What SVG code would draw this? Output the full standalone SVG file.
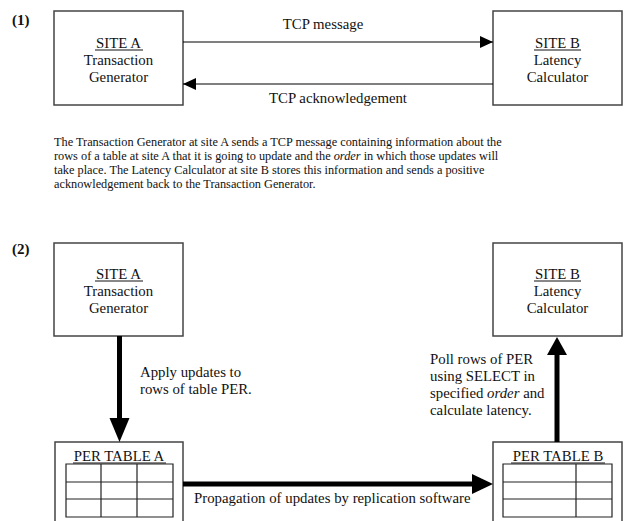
<svg xmlns="http://www.w3.org/2000/svg" width="629" height="521" viewBox="0 0 629 521">
<defs>
<style>
text{font-family:"Liberation Serif","Times New Roman",serif;fill:#111}
.lbl{font-size:14.8px}
.mid{text-anchor:middle}
.para{font-size:12.3px}
.num{font-size:15px;font-weight:bold}
.box{fill:#fff;stroke:#444;stroke-width:1.5}
.grid{fill:none;stroke:#222;stroke-width:1.2}
.thin{stroke:#000;stroke-width:1.2;fill:none}
.thick{stroke:#000;stroke-width:5;fill:none}
.ul{stroke:#111;stroke-width:1}
</style>
<marker id="ah" markerWidth="14" markerHeight="12" refX="13" refY="6" orient="auto" markerUnits="userSpaceOnUse">
<path d="M0,0 L13,6 L0,12 Z" fill="#000"/>
</marker>
</defs>
<text class="num" x="12" y="25">(1)</text>
<text class="num" x="12" y="254">(2)</text>

<g id="site-a-1">
<rect class="box" x="54" y="11" width="129" height="94"/>
<text class="lbl mid" x="118.5" y="48">SITE A</text>
<line class="ul" x1="95" y1="50" x2="143" y2="50"/>
<text class="lbl mid" x="118.5" y="65">Transaction</text>
<text class="lbl mid" x="118.5" y="82">Generator</text>
</g>
<g id="site-b-1">
<rect class="box" x="493" y="11" width="129" height="94"/>
<text class="lbl mid" x="557.5" y="48">SITE B</text>
<line class="ul" x1="534" y1="50" x2="581" y2="50"/>
<text class="lbl mid" x="557.5" y="65">Latency</text>
<text class="lbl mid" x="557.5" y="82">Calculator</text>
</g>

<g id="connectors-1">
<line class="thin" x1="183" y1="42" x2="493" y2="42" marker-end="url(#ah)"/>
<line class="thin" x1="493" y1="84" x2="183" y2="84" marker-end="url(#ah)"/>
<text class="lbl mid" x="323" y="29">TCP message</text>
<text class="lbl mid" x="338" y="103">TCP acknowledgement</text>
</g>

<g id="description">
<text class="para" x="54" y="146">The Transaction Generator at site A sends a TCP message containing information about the</text>
<text class="para" x="54" y="160">rows of a table at site A that it is going to update and the <tspan font-style="italic">order</tspan> in which those updates will</text>
<text class="para" x="54" y="174">take place.  The Latency Calculator at site B stores this information and sends a positive</text>
<text class="para" x="54" y="188">acknowledgement back to the Transaction Generator.</text>
</g>

<g id="site-a-2">
<rect class="box" x="54" y="243" width="129" height="93"/>
<text class="lbl mid" x="118.5" y="279">SITE A</text>
<line class="ul" x1="95" y1="281" x2="143" y2="281"/>
<text class="lbl mid" x="118.5" y="296">Transaction</text>
<text class="lbl mid" x="118.5" y="313">Generator</text>
</g>
<g id="site-b-2">
<rect class="box" x="493" y="243" width="129" height="93"/>
<text class="lbl mid" x="557.5" y="279">SITE B</text>
<line class="ul" x1="534" y1="281" x2="581" y2="281"/>
<text class="lbl mid" x="557.5" y="296">Latency</text>
<text class="lbl mid" x="557.5" y="313">Calculator</text>
</g>

<g id="per-table-a">
<rect class="box" x="55" y="442" width="128" height="90"/>
<text class="lbl mid" x="119" y="461">PER TABLE A</text>
<line class="ul" x1="73" y1="463" x2="166" y2="463"/>
<path class="grid" d="M66,464 H173 V517 H66 Z M66,482 H173 M66,499 H173 M101,464 V517 M137,464 V517"/>
</g>
<g id="per-table-b">
<rect class="box" x="493" y="442" width="129" height="90"/>
<text class="lbl mid" x="558" y="461">PER TABLE B</text>
<line class="ul" x1="511" y1="463" x2="605" y2="463"/>
<path class="grid" d="M503,464 H612 V517 H503 Z M503,482 H612 M503,499 H612 M576,464 V517"/>
</g>

<g id="connectors-2">
<line class="thick" x1="119.5" y1="336" x2="119.5" y2="420"/>
<path d="M109.5,418 L129.5,418 L119.5,442 Z" fill="#000"/>
<line class="thick" x1="557" y1="442" x2="557" y2="353"/>
<path d="M547,355 L567,355 L557,337 Z" fill="#000"/>
<line class="thick" x1="183" y1="484" x2="475" y2="484"/>
<path d="M472,474 L472,494 L493,484 Z" fill="#000"/>
<text class="lbl" x="140" y="377">Apply updates to</text>
<text class="lbl" x="140" y="394">rows of table PER.</text>
<text class="lbl" x="430" y="364">Poll rows of PER</text>
<text class="lbl" x="430" y="381">using SELECT in</text>
<text class="lbl" x="430" y="398">specified <tspan font-style="italic">order</tspan> and</text>
<text class="lbl" x="430" y="415">calculate latency.</text>
<text class="lbl" x="194" y="503">Propagation of updates by replication software</text>
</g>
</svg>
